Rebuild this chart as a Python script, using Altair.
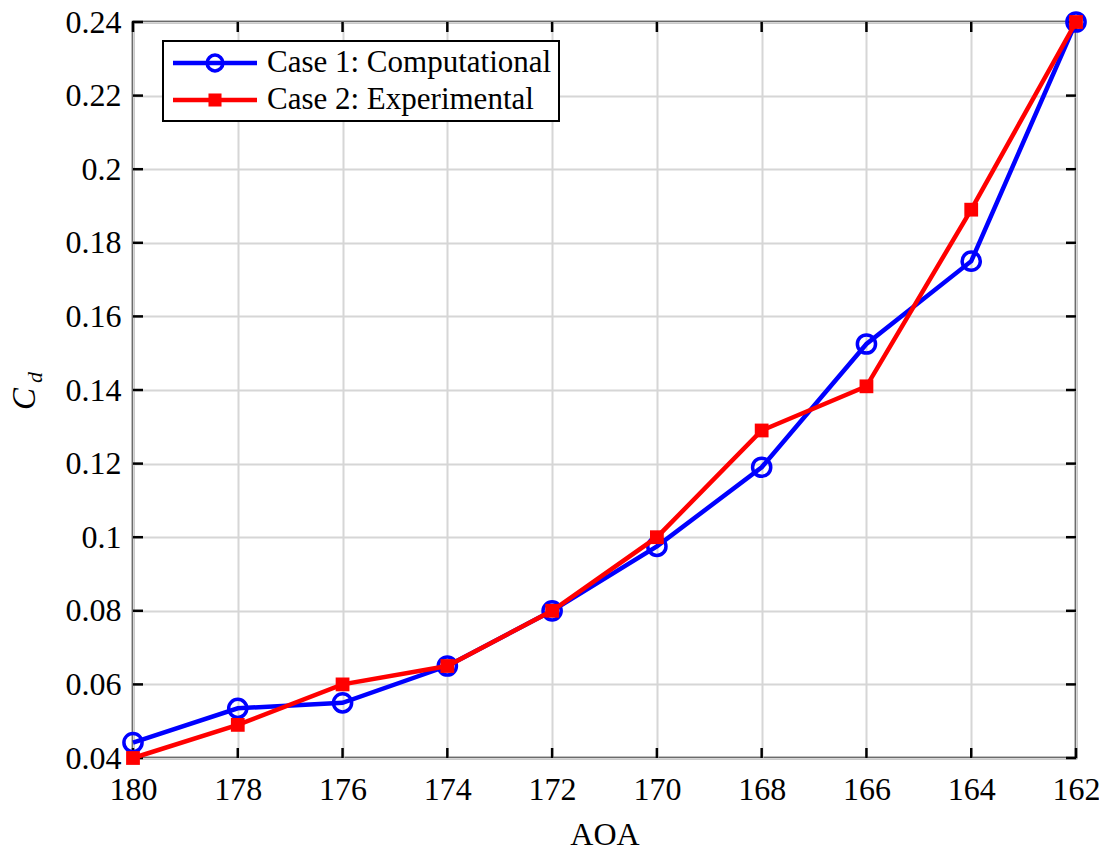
import altair as alt
import pandas as pd

# Angle of attack (deg) and drag coefficient for both cases
aoa = [180, 178, 176, 174, 172, 170, 168, 166, 164, 162]
cd_computational = [0.0442, 0.0535, 0.0550, 0.0650, 0.0800, 0.0975, 0.1190, 0.1525, 0.1750, 0.2400]
cd_experimental = [0.0400, 0.0490, 0.0600, 0.0650, 0.0800, 0.1000, 0.1290, 0.1410, 0.1890, 0.2400]

series_names = ["Case 1: Computational", "Case 2: Experimental"]
x_ticks = [180, 178, 176, 174, 172, 170, 168, 166, 164, 162]
y_ticks = [0.04, 0.06, 0.08, 0.10, 0.12, 0.14, 0.16, 0.18, 0.20, 0.22, 0.24]

W, H = 943, 736
BLUE = "#0000ff"
RED = "#ff0000"
FONT = "Liberation Serif"

comp = pd.DataFrame({"AOA": aoa, "Cd": cd_computational})
expt = pd.DataFrame({"AOA": aoa, "Cd": cd_experimental})
xt = pd.DataFrame({"AOA": x_ticks})
yt = pd.DataFrame({"Cd": y_ticks})
leg = pd.DataFrame({"name": series_names})

xs = alt.Scale(domain=[162, 180], reverse=True, nice=False, zero=False)
ys = alt.Scale(domain=[0.04, 0.24], nice=False, zero=False)

x_axis = alt.Axis(
    values=x_ticks, title="AOA", grid=True, gridColor="#d6d6d6", gridWidth=2,
    tickSize=0, domain=False, labelFont=FONT, labelFontSize=32, labelColor="black",
    labelPadding=16, labelFlush=False, labelOverlap=False,
    titleFont=FONT, titleFontSize=32, titleFontWeight="normal",
    titleColor="black", titlePadding=14,
)
y_axis = alt.Axis(
    values=y_ticks, title=None, format=".2~f", grid=True, gridColor="#d6d6d6", gridWidth=2,
    tickSize=0, domain=False, labelFont=FONT, labelFontSize=32, labelColor="black",
    labelPadding=12, labelFlush=False, labelOverlap=False,
)


def xq():
    return alt.X("AOA:Q", scale=xs, axis=x_axis)


def yq():
    return alt.Y("Cd:Q", scale=ys, axis=y_axis)


blue_line = alt.Chart(comp).mark_line(color=BLUE, strokeWidth=4.5).encode(x=xq(), y=yq())
blue_pts = alt.Chart(comp).mark_point(
    shape="circle", size=330, filled=False, color=BLUE, strokeWidth=3.5, opacity=1
).encode(x=xq(), y=yq())
red_line = alt.Chart(expt).mark_line(color=RED, strokeWidth=4.5).encode(x=xq(), y=yq())
red_pts = alt.Chart(expt).mark_point(
    shape="square", size=190, filled=True, color=RED, opacity=1
).encode(x=xq(), y=yq())

# inward ticks on all four sides
tick_len = 10
tb = alt.Chart(xt).mark_rule(color="black", strokeWidth=2.5).encode(
    x=xq(), y=alt.value(H), y2=alt.value(H - tick_len))
tt = alt.Chart(xt).mark_rule(color="black", strokeWidth=2.5).encode(
    x=xq(), y=alt.value(0), y2=alt.value(tick_len))
tl = alt.Chart(yt).mark_rule(color="black", strokeWidth=2.5).encode(
    y=yq(), x=alt.value(0), x2=alt.value(tick_len))
tr = alt.Chart(yt).mark_rule(color="black", strokeWidth=2.5).encode(
    y=yq(), x=alt.value(W), x2=alt.value(W - tick_len))

# y-axis title: italic C with subscript d
c_title = alt.Chart(leg.head(1)).mark_text(
    text="C", font=FONT, fontSize=33, fontStyle="italic", angle=270,
    align="left", baseline="alphabetic", color="black",
).encode(x=alt.value(-98), y=alt.value(388))
d_title = alt.Chart(leg.head(1)).mark_text(
    text="d", font=FONT, fontSize=22, fontStyle="italic", angle=270,
    align="left", baseline="alphabetic", color="black",
).encode(x=alt.value(-91), y=alt.value(361))

# legend box
lx0, lx1, ly0, ly1 = 30, 426, 19, 99
row_y = [41, 78]
leg_box = alt.Chart(leg.head(1)).mark_rect(
    fill="white", stroke="black", strokeWidth=2
).encode(x=alt.value(lx0), x2=alt.value(lx1), y=alt.value(ly0), y2=alt.value(ly1))

leg_layers = []
for i, (name, col) in enumerate(zip(series_names, [BLUE, RED])):
    d = leg[leg["name"] == name]
    leg_layers.append(alt.Chart(d).mark_rule(color=col, strokeWidth=4.5).encode(
        x=alt.value(40), x2=alt.value(124), y=alt.value(row_y[i])))
    if i == 0:
        leg_layers.append(alt.Chart(d).mark_point(
            shape="circle", size=250, filled=False, color=col, strokeWidth=3.5, opacity=1
        ).encode(x=alt.value(82), y=alt.value(row_y[i])))
    else:
        leg_layers.append(alt.Chart(d).mark_point(
            shape="square", size=170, filled=True, color=col, opacity=1
        ).encode(x=alt.value(82), y=alt.value(row_y[i])))
    leg_layers.append(alt.Chart(d).mark_text(
        font=FONT, fontSize=31, align="left", baseline="middle", color="black"
    ).encode(x=alt.value(134), y=alt.value(row_y[i]), text="name:N"))

chart = alt.layer(
    blue_line, tb, tt, tl, tr, blue_pts, red_line, red_pts,
    c_title, d_title, leg_box, *leg_layers
).properties(
    width=W, height=H,
    autosize=alt.AutoSizeParams(type="none"),
    padding={"left": 133, "top": 22, "right": 23, "bottom": 92},
    background="white",
).configure_view(
    stroke="black", strokeWidth=2.5
)

chart.save("out.html", embed_options={"renderer": "svg", "actions": False})
